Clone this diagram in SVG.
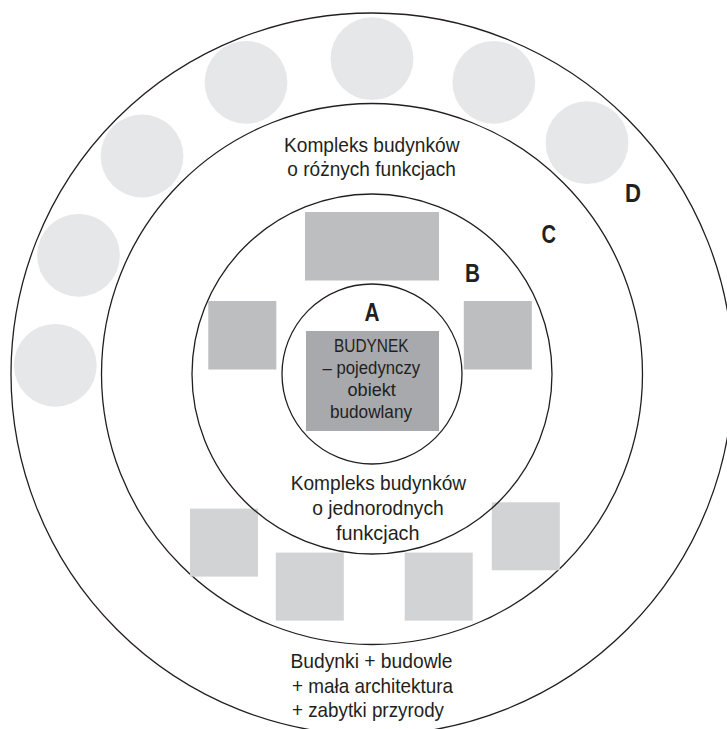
<svg xmlns="http://www.w3.org/2000/svg" width="727" height="729" viewBox="0 0 727 729">
<style>
.ring{fill:none;stroke:#231f20;stroke-width:1.3}
.tree{fill:#e6e7e8}
.bb{fill:#bcbec0}
.cc{fill:#d1d3d4}
.core{fill:#a7a9ac}
.t{font-family:"Liberation Sans",Arial,sans-serif;font-size:21px;fill:#231f20}
.bx{font-size:17.5px}
.L{font-family:"Liberation Sans",Arial,sans-serif;font-weight:bold;font-size:26px;fill:#231f20}
</style>
<rect width="727" height="729" fill="#fff"/>
<g id="ring-D">
<circle class="ring" cx="372" cy="374" r="361"/>
<circle class="tree" cx="372" cy="58.7" r="41.4"/>
<circle class="tree" cx="246" cy="82.3" r="41.4"/>
<circle class="tree" cx="493.8" cy="82.3" r="41.4"/>
<circle class="tree" cx="587" cy="142.7" r="41.4"/>
<circle class="tree" cx="142" cy="156" r="41.4"/>
<circle class="tree" cx="78.5" cy="255.3" r="41.4"/>
<circle class="tree" cx="55.3" cy="365.3" r="41.4"/>
<text class="L" x="625" y="201.5" textLength="16" lengthAdjust="spacingAndGlyphs">D</text>
<text class="t" x="290.5" y="668" textLength="162" lengthAdjust="spacingAndGlyphs">Budynki + budowle</text>
<text class="t" x="292" y="692.5" textLength="161" lengthAdjust="spacingAndGlyphs">+ mała architektura</text>
<text class="t" x="292" y="717" textLength="152" lengthAdjust="spacingAndGlyphs">+ zabytki przyrody</text>
</g>
<g id="ring-C">
<circle class="ring" cx="372" cy="374" r="270.5"/>
<rect class="cc" x="190" y="508.6" width="68" height="68"/>
<rect class="cc" x="275.8" y="552.6" width="68" height="68"/>
<rect class="cc" x="404.7" y="552.6" width="68" height="68"/>
<rect class="cc" x="491.8" y="502.3" width="68" height="68"/>
<text class="L" x="541.5" y="242.5" textLength="14.5" lengthAdjust="spacingAndGlyphs">C</text>
<text class="t" x="284" y="151.5" textLength="175.5" lengthAdjust="spacingAndGlyphs">Kompleks budynków</text>
<text class="t" x="287.3" y="175.5" textLength="168.5" lengthAdjust="spacingAndGlyphs">o różnych funkcjach</text>
</g>
<g id="ring-B">
<circle class="ring" cx="372" cy="374" r="180"/>
<rect class="bb" x="305" y="212" width="134" height="68.5"/>
<rect class="bb" x="208.3" y="301" width="68" height="68.5"/>
<rect class="bb" x="463.8" y="301" width="68" height="68.5"/>
<text class="L" x="465" y="281.7" textLength="15" lengthAdjust="spacingAndGlyphs">B</text>
<text class="t" x="290.7" y="490" textLength="175.5" lengthAdjust="spacingAndGlyphs">Kompleks budynków</text>
<text class="t" x="312.3" y="514.5" textLength="131.5" lengthAdjust="spacingAndGlyphs">o jednorodnych</text>
<text class="t" x="336" y="539.5" textLength="83.5" lengthAdjust="spacingAndGlyphs">funkcjach</text>
</g>
<g id="ring-A">
<circle class="ring" cx="372" cy="374" r="90"/>
<text class="L" x="364.5" y="320.7" textLength="15" lengthAdjust="spacingAndGlyphs">A</text>
</g>
<g id="budynek">
<rect class="core" x="306" y="331" width="133" height="100"/>
<text class="t bx" x="334" y="352.3" textLength="74.5" lengthAdjust="spacingAndGlyphs">BUDYNEK</text>
<text class="t bx" x="322.6" y="373.5" textLength="97.5" lengthAdjust="spacingAndGlyphs">– pojedynczy</text>
<text class="t bx" x="347.5" y="395.5" textLength="48.3" lengthAdjust="spacingAndGlyphs">obiekt</text>
<text class="t bx" x="330" y="418.3" textLength="82" lengthAdjust="spacingAndGlyphs">budowlany</text>
</g>
<g id="connectors"/>
</svg>
